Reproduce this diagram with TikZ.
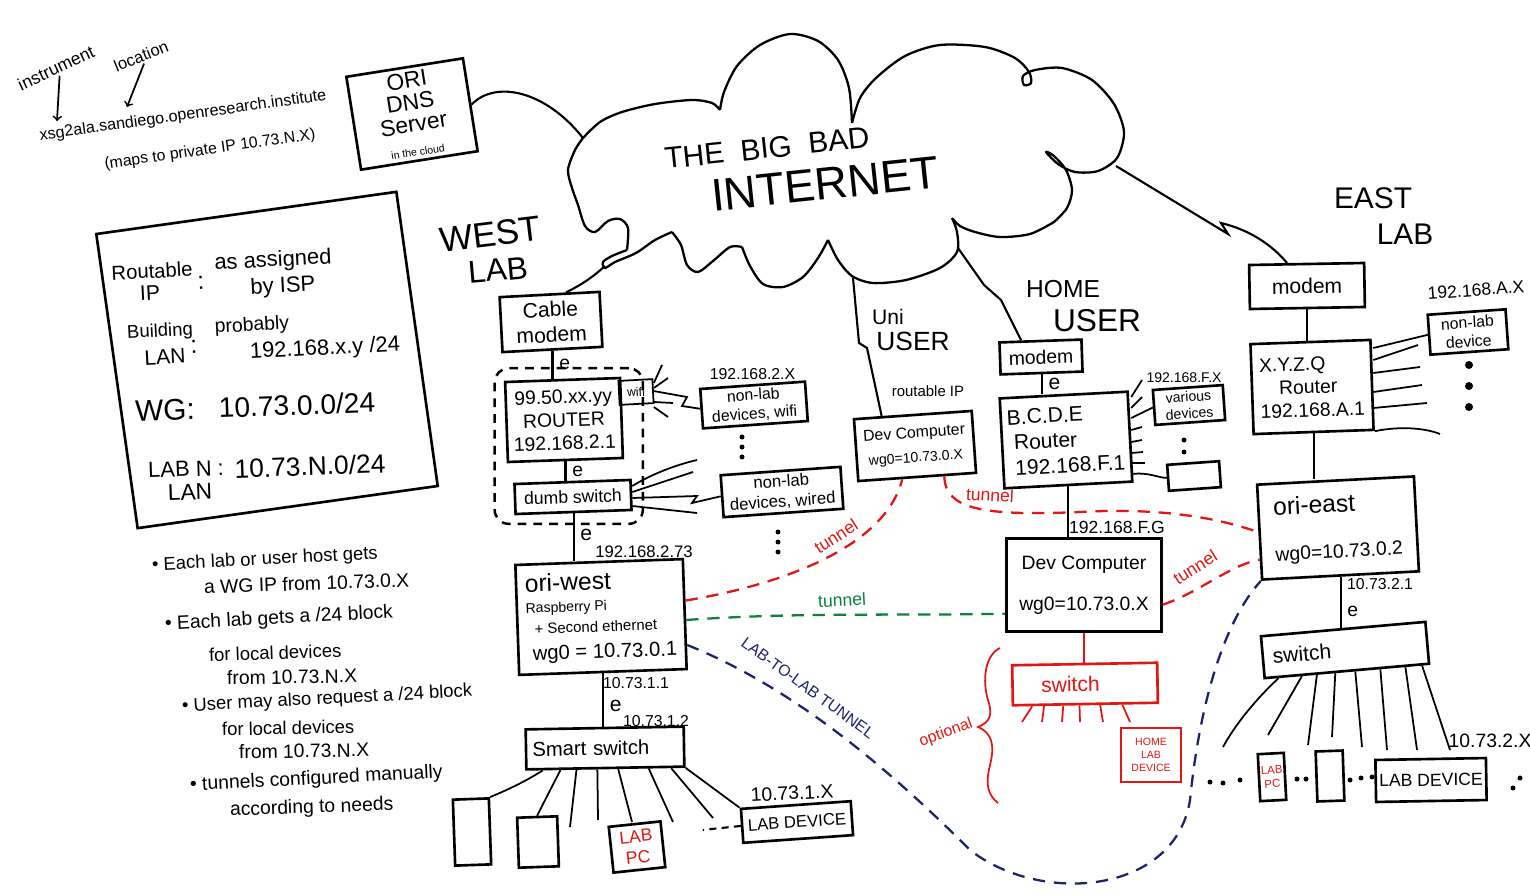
\documentclass[tikz,border=0pt]{standalone}
\usepackage{fontspec}
\setmainfont{Liberation Sans}
\usetikzlibrary{positioning,fit,calc}
\definecolor{inkred}{RGB}{226,22,18}
\definecolor{inkgreen}{RGB}{12,130,62}
\definecolor{inkblue}{RGB}{28,36,110}
\newcommand\fsz[1]{\fontsize{#1}{\dimexpr #1pt*6/5\relax}\selectfont}

\begin{document}
\begin{tikzpicture}[x=0.02cm,y=-0.02cm,
		box/.style={draw,line width=1.5pt,align=center,inner sep=2pt},
		redbox/.style={box,draw=inkred,text=inkred},
		txt/.style={inner sep=1pt,align=center},
		fs/.style={font=\fsz{#1}},
		sz/.style 2 args={minimum width=#1*0.02cm,minimum height=#2*0.02cm},
		wire/.style={line width=1.2pt},
		ray/.style={line width=1pt},
		tun/.style={line width=1.3pt,dash pattern=on 7pt off 5pt},
		grp/.style={draw,line width=1.4pt,dash pattern=on 5pt off 4pt,rounded corners=8pt},
		dot/.style={circle,fill=black,inner sep=0pt,minimum size=1mm}]
	\useasboundingbox[fill=white] (0,0) rectangle (1530,895);

	\draw[line width=1.3pt,line join=round]
		plot[smooth] coordinates {(583,138) (600,122) (622,112) (655,104) (692,100) (712,103) (720,110)}
		plot[smooth] coordinates {(720,110) (724,92) (737,66) (760,45) (790,34) (818,41) (838,60) (849,88) (852,123)}
		plot[smooth] coordinates {(852,123) (860,98) (876,78) (905,56) (940,45) (985,47) (1015,58) (1029,72) (1031,83) (1024,85) (1023,76) (1035,70) (1062,68) (1092,80) (1114,104) (1124,132) (1117,158) (1098,171) (1075,172) (1058,164) (1046,152) (1054,156) (1066,170) (1072,190) (1067,208) (1054,222)}
		plot[smooth] coordinates {(1054,222) (1030,234) (1000,237) (975,232) (960,226) (952,218)}
		plot[smooth] coordinates {(952,218) (957,232) (957,252) (940,268) (906,280) (873,283) (852,276) (838,260) (828,240)}
		plot[smooth] coordinates {(828,240) (818,258) (803,277) (783,287) (763,284) (750,266) (742,247)}
		plot[smooth] coordinates {(742,247) (730,247) (713,261) (698,272) (687,265) (681,245) (672,232)}
		plot[smooth] coordinates {(672,232) (655,240) (636,253) (615,262) (605,268) (603,262) (612,256) (627,250)}
		plot[smooth] coordinates {(627,250) (628,228) (620,219) (608,221) (595,232) (585,226) (578,205) (572,188) (568,170) (575,150) (583,138)};
	\node[txt,fs=17,rotate=6] (bigbad) at (767,148) {THE\ \ BIG\ \ BAD};
	\node[txt,fs=26,rotate=6] (internet) at (825,184) {INTERNET};
	\coordinate (cd) at (583,138);
	\coordinate (cw) at (605,266);
	\coordinate (cu) at (853,278);
	\coordinate (ch) at (958,248);
	\coordinate (ce) at (1116,166);

	\node[txt,fs=10,rotate=25] (instr) at (56,68) {instrument};
	\node[txt,fs=9.4,rotate=22] (loc) at (141,56) {location};
	\node[txt,fs=9.2,rotate=8] (fqdn) at (183,116) {xsg2ala.sandiego.openresearch.institute};
	\node[txt,fs=9,rotate=8] (mapsto) at (210,150) {(maps to private IP 10.73.N.X)};
	\coordinate (instrtip) at (57,121);
	\coordinate (loctip) at (127,107);
	\draw[ray,->] (instr.south) -- (instrtip);
	\draw[ray,->] (loc.south) -- (loctip);
	\node[box,fs=13,sz={118}{94},rotate=9,inner sep=0pt] (dns) at (412,114) {ORI\\[-3pt]DNS\\[-3pt]Server\\[-2pt]{\fsz{6}in the cloud}};
	\draw[wire] (dns.east) .. controls (495,80) and (545,90) .. (cd);

	\node[box,sz={303}{297},rotate=8] (legend) at (267,360) {};
	\node[txt,fs=11.5,rotate=3] (leg1) at (152,271) {Routable};
	\node[txt,fs=12,rotate=3] (leg2) at (150,293) {IP};
	\node[txt,fs=14,rotate=3] (leg3) at (201,283) {:};
	\node[txt,fs=12.5,rotate=3] (leg4) at (273,261) {as assigned};
	\node[txt,fs=12.5,rotate=3] (leg5) at (283,287) {by ISP};
	\node[txt,fs=10.5,rotate=3] (leg6) at (160,332) {Building};
	\node[txt,fs=12,rotate=3] (leg7) at (165,357) {LAN};
	\node[txt,fs=14,rotate=3] (leg8) at (194,347) {:};
	\node[txt,fs=11,rotate=3] (leg9) at (252,326) {probably};
	\node[txt,fs=12.5,rotate=3] (leg10) at (325,349) {192.168.x.y /24};
	\node[txt,fs=17,rotate=2] (leg11) at (165,410) {WG:};
	\node[txt,fs=16,rotate=2] (leg12) at (297,405) {10.73.0.0/24};
	\node[txt,fs=12.5,rotate=2] (leg13) at (186,469) {LAB N :};
	\node[txt,fs=15,rotate=2] (leg14) at (310,466) {10.73.N.0/24};
	\node[txt,fs=13,rotate=2] (leg15) at (190,492) {LAN};

	\node[txt,fs=10.5,rotate=3,anchor=west] (b1a) at (150,566) {• Each lab or user host gets};
	\node[txt,fs=11,rotate=2,anchor=west] (b1b) at (202,587) {a WG IP from 10.73.0.X};
	\node[txt,fs=11,rotate=3,anchor=west] (b2a) at (163,625) {• Each lab gets a /24 block};
	\node[txt,fs=10.5,rotate=2,anchor=west] (b2b) at (207,655) {for local devices};
	\node[txt,fs=11,rotate=1,anchor=west] (b2c) at (225,678) {from 10.73.N.X};
	\node[txt,fs=10.5,rotate=3,anchor=west] (b3a) at (180,707) {• User may also request a /24 block};
	\node[txt,fs=10.5,rotate=1,anchor=west] (b3b) at (220,729) {for local devices};
	\node[txt,fs=11,rotate=1,anchor=west] (b3c) at (237,752) {from 10.73.N.X};
	\node[txt,fs=11,rotate=3,anchor=west] (b4a) at (188,786) {• tunnels configured manually};
	\node[txt,fs=11,rotate=2,anchor=west] (b4b) at (228,811) {according to needs};

	\node[txt,fs=20,rotate=7] (westt) at (490,234) {WEST};
	\node[txt,fs=18,rotate=5] (westl) at (498,270) {LAB};
	\node[box,fs=12,sz={100}{55},rotate=3] (cablemodem) at (551,322) {Cable\\modem};
	\node[box,fs=11,sz={115}{80},rotate=2] (router) at (564,420) {99.50.xx.yy\\ROUTER\\192.168.2.1};
	\node[box,fs=7,sz={34}{24},line width=1pt,rotate=3] (wifi) at (636,392) {wifi};
	\node[box,fs=9,sz={105}{38},rotate=4] (wifidev) at (754,405) {non-lab\\devices, wifi};
	\node[txt,fs=9,above=1pt of wifidev.north] (wifinet) {192.168.2.X};
	\node[box,fs=10,sz={116}{30},rotate=2] (dumbsw) at (573,497) {dumb switch};
	\node[box,fs=9.5,sz={120}{42},rotate=4] (wireddev) at (782,492) {non-lab\\devices, wired};
	\node[grp,fit=(router)(dumbsw),inner sep=6pt] (westgrp) {};
	\node[box,sz={157}{110},rotate=2,align=left,inner sep=5pt] (oriwest) at (601,617)
		{{\fsz{14}ori-west}\\{\fsz{8}Raspberry Pi}\\{\fsz{8.5}\ \ + Second ethernet}\\[3pt]{\fsz{11.5}\ wg0 = 10.73.0.1}};
	\node[box,fs=11.5,sz={158}{40},rotate=1,align=left,text width=2.9cm] (smartsw) at (605,748) {Smart switch};
	\node[box,sz={36}{66},rotate=2] (devw1) at (472,832) {};
	\node[box,sz={40}{50},rotate=2] (devw2) at (538,842) {};
	\node[box,fs=10,text=inkred,sz={52}{46},rotate=6] (labpcw) at (637,847) {LAB\\PC};
	\node[box,fs=9.5,sz={110}{34},rotate=4] (labdevw) at (797,822) {LAB DEVICE};
	\node[txt,fs=11,rotate=3] (labnetw) at (792,793) {10.73.1.X};

	\draw[wire] (cw) .. controls (595,275) and (585,283) .. (cablemodem.60);
	\draw[wire] (cablemodem.south) -- (cablemodem.south |- router.north) node[midway,right,fs=11] (e1) {e};
	\draw[wire] (router.south) -- (router.south |- dumbsw.north) node[midway,right,fs=11] (e2) {e};
	\draw[wire] (dumbsw.south) -- (dumbsw.south |- oriwest.north) node[pos=0.45,right,fs=12] (e3) {e};
	\node[txt,fs=9.5] (wanw) at (644,552) {192.168.2.73};
	\draw[wire] (oriwest.south) -- (oriwest.south |- smartsw.north) node[pos=0.62,right,fs=12] (e4) {e};
	\node[txt,fs=9] (lan1) at (636,683) {10.73.1.1};
	\node[txt,fs=9] (lan2) at (656,721) {10.73.1.2};
	\foreach \ya/\xb/\yb in {383/662/365, 388/668/378, 402/673/403, 407/668/417}
		\draw[ray] (wifi.east |- 0,\ya) -- (\xb,\yb);
	\draw[ray] (wifi.east) -- (687,397) -- (682,406) -- (wifidev.west);
	\draw[ray] (dumbsw.east |- 0,486) .. controls (650,475) and (675,465) .. (697,460);
	\draw[ray] (dumbsw.east |- 0,492) -- (693,472);
	\draw[ray] (dumbsw.east |- 0,498) -- (697,496) -- (692,503) -- (wireddev.west);
	\draw[ray] (dumbsw.east |- 0,506) -- (697,513);
	\foreach \yd in {437,447,457} \node[dot] (wd\yd) at (742,\yd) {};
	\foreach \yd in {532,542,552} \node[dot] (wr\yd) at (778,\yd) {};
	\draw[ray] ($(smartsw.south west)!0.11!(smartsw.south east)$) .. controls (520,785) and (495,795) .. (devw1.north east);
	\draw[ray] ($(smartsw.south west)!0.22!(smartsw.south east)$) -- (devw2.north);
	\foreach \f/\xb/\yb in {0.32/570/827, 0.45/598/820, 0.58/632/822, 0.77/673/822, 0.91/713/818}
		\draw[ray] ($(smartsw.south west)!\f!(smartsw.south east)$) -- (\xb,\yb);
	\draw[ray] (smartsw.south east) -- (labdevw.north west);
	\draw[line width=1.2pt,dash pattern=on 4pt off 3pt] (labdevw.west) -- ++(-38,4);

	\node[txt,fs=12] (unit) at (888,317) {Uni};
	\node[txt,fs=15] (uniu) at (913,341) {USER};
	\node[box,fs=9,sz={118}{62},rotate=4] (unidev) at (915,446) {Dev Computer\\[3pt]{\fsz{8}wg0=10.73.0.X}};
	\node[txt,fs=8.5] (routable) at (928,391) {routable IP};
	\draw[wire] (cu) -- (859,343) -- (867,348) -- (unidev.134);

	\node[txt,fs=14] (homet) at (1063,289) {HOME};
	\node[txt,fs=18] (homeu) at (1097,321) {USER};
	\node[box,fs=11,sz={82}{32},rotate=2] (homemodem) at (1041,357) {modem};
	\node[box,fs=12,sz={128}{90},rotate=3,align=left] (homerouter) at (1066,440) {B.C.D.E\\\ Router\\\ 192.168.F.1};
	\node[box,fs=8,sz={70}{35},rotate=4] (variousdev) at (1189,405) {various\\devices};
	\node[txt,fs=8] (homenet) at (1184,378) {192.168.F.X};
	\node[box,sz={52}{26},rotate=4] (emptyh) at (1194,476) {};
	\node[box,fs=11,sz={155}{93}] (homedev) at (1084,585) {Dev Computer\\[10pt]wg0=10.73.0.X};
	\node[txt,fs=10] (homewan) at (1117,527) {192.168.F.G};
	\node[redbox,fs=12,sz={145}{40},rotate=1,align=left,text width=2.6cm] (homesw) at (1085,684) {\quad switch};
	\node[redbox,fs=6,sz={60}{54}] (homelab) at (1151,755) {HOME\\LAB\\DEVICE};
	\node[txt,fs=9,text=inkred,rotate=20] (optional) at (946,733) {optional};
	\draw[ray,inkred] (1000,648) .. controls (985,655) and (982,680) .. (988,700) .. controls (993,715) and (990,722) .. (978,727) .. controls (992,733) and (995,745) .. (990,765) .. controls (985,785) and (988,795) .. (998,803);
	\draw[wire] (ch) -- (984,285) -- (1001,300) -- (homemodem.138);
	\draw[wire] (homemodem.south) -- (homemodem.south |- homerouter.north) node[midway,right,fs=12] (e5) {e};
	\draw[wire] (homerouter.south) -- (homerouter.south |- homedev.north);
	\draw[ray,inkred] (homedev.south) -- (homedev.south |- homesw.north);
	\foreach \ya/\xb/\yb in {397/1142/380, 408/1142/397, 430/1142/427, 442/1142/440, 453/1143/452, 463/1145/463}
		\draw[ray] (homerouter.east |- 0,\ya) -- (\xb,\yb);
	\draw[ray] (homerouter.east |- 0,418) -- (variousdev.west);
	\draw[ray] (homerouter.east |- 0,474) .. controls (1150,472) and (1158,478) .. (emptyh.west);
	\foreach \yd in {440,452} \node[dot] (hd\yd) at (1184,\yd) {};
	\foreach \f/\xb in {0.14/1022, 0.22/1042, 0.35/1062, 0.46/1080, 0.6/1103, 0.75/1130}
		\draw[ray,inkred] ($(homesw.south west)!\f!(homesw.south east)$) -- (\xb,722);

	\node[txt,fs=17] (eastt) at (1373,198) {EAST};
	\node[txt,fs=17] (eastl) at (1405,234) {LAB};
	\node[box,fs=12,sz={115}{44},rotate=1] (eastmodem) at (1307,286) {modem};
	\node[box,fs=11,sz={120}{90},rotate=2,align=left] (eastrouter) at (1312,387) {X.Y.Z.Q\\\quad Router\\192.168.A.1};
	\node[box,fs=9,sz={78}{40},rotate=4] (nonlabe) at (1468,332) {non-lab\\device};
	\node[txt,fs=10,rotate=4] (eastnet) at (1476,290) {192.168.A.X};
	\node[box,sz={157}{95},rotate=3,align=left] (orieast) at (1338,528) {{\fsz{14}ori-east}\\[14pt]{\fsz{11}wg0=10.73.0.2}};
	\node[box,fs=12,sz={165}{42},rotate=5,align=left,text width=2.9cm] (eastsw) at (1345,650) {switch};
	\node[box,fs=6.5,text=inkred,sz={26}{47},rotate=3,inner sep=0pt] (labpce) at (1272,777) {LAB\\PC};
	\node[box,sz={27}{50},rotate=2] (deve1) at (1330,776) {};
	\node[box,fs=10,sz={110}{42},rotate=1] (labdeve) at (1431,780) {LAB DEVICE};
	\node[txt,fs=11] (labnete) at (1490,741) {10.73.2.X};
	\draw[wire] (ce) -- (1228,234) -- (1221,223) .. controls (1250,230) and (1272,245) .. (eastmodem.130);
	\draw[wire] (eastmodem.south) -- (eastmodem.south |- eastrouter.north);
	\draw[wire] (eastrouter.south) -- (eastrouter.south |- orieast.north);
	\draw[wire] (orieast.south) -- (orieast.south |- eastsw.north) node[pos=0.68,right,fs=11] (e6) {e};
	\node[txt,fs=9] (lane) at (1380,584) {10.73.2.1};
	\draw[ray] (eastrouter.east |- 0,348) -- (nonlabe.west);
	\foreach \ya/\xb/\yb in {360/1418/345, 373/1420/367, 392/1422/385, 408/1427/403}
		\draw[ray] (eastrouter.east |- 0,\ya) -- (\xb,\yb);
	\draw[ray] (eastrouter.south east) .. controls (1400,426) and (1425,428) .. (1440,434);
	\foreach \yd in {365,386,407} \node[dot,minimum size=1.6mm] (ed\yd) at (1469,\yd) {};
	\draw[ray] ($(eastsw.south west)!0.09!(eastsw.south east)$) .. controls (1255,700) and (1235,725) .. (1223,747);
	\foreach \f/\xb/\yb in {0.23/1268/735, 0.32/1308/745, 0.43/1332/737, 0.55/1362/747, 0.7/1387/750, 0.85/1417/750, 0.95/1450/750}
		\draw[ray] ($(eastsw.south west)!\f!(eastsw.south east)$) -- (\xb,\yb);
	\foreach \xd/\yd in {1210/782, 1223/783, 1240/780, 1297/779, 1306/779, 1350/780, 1361/778, 1372/777, 1513/788, 1520/778}
		\node[dot] (bd\xd) at (\xd,\yd) {};

	\draw[tun,inkred] (oriwest.9) .. controls (780,585) and (885,548) .. (unidev.245);
	\node[txt,fs=10,text=inkred,rotate=33] (tunnel1) at (836,536) {tunnel};
	\draw[tun,inkred] (unidev.310) .. controls (945,510) and (985,516) .. (1080,512) .. controls (1150,508) and (1210,515) .. (orieast.west);
	\node[txt,fs=10,text=inkred,rotate=-3] (tunnel2) at (990,495) {tunnel};
	\draw[tun,inkred] (homedev.-14) .. controls (1200,592) and (1230,565) .. (orieast.199);
	\node[txt,fs=10,text=inkred,rotate=32] (tunnel3) at (1195,567) {tunnel};
	\draw[tun,inkgreen] (oriwest.-4) .. controls (800,612) and (900,616) .. (homedev.200);
	\node[txt,fs=10,text=inkgreen,rotate=3] (tunnel4) at (842,600) {tunnel};
	\draw[tun,inkblue] (oriwest.-20) .. controls (800,690) and (900,780) .. (970,850) .. controls (1040,905) and (1175,895) .. (1190,800) .. controls (1200,700) and (1225,620) .. (orieast.south west);
	\node[txt,fs=9,text=inkblue,rotate=-36] (l2l) at (808,688) {LAB-TO-LAB TUNNEL};
\end{tikzpicture}
\end{document}
